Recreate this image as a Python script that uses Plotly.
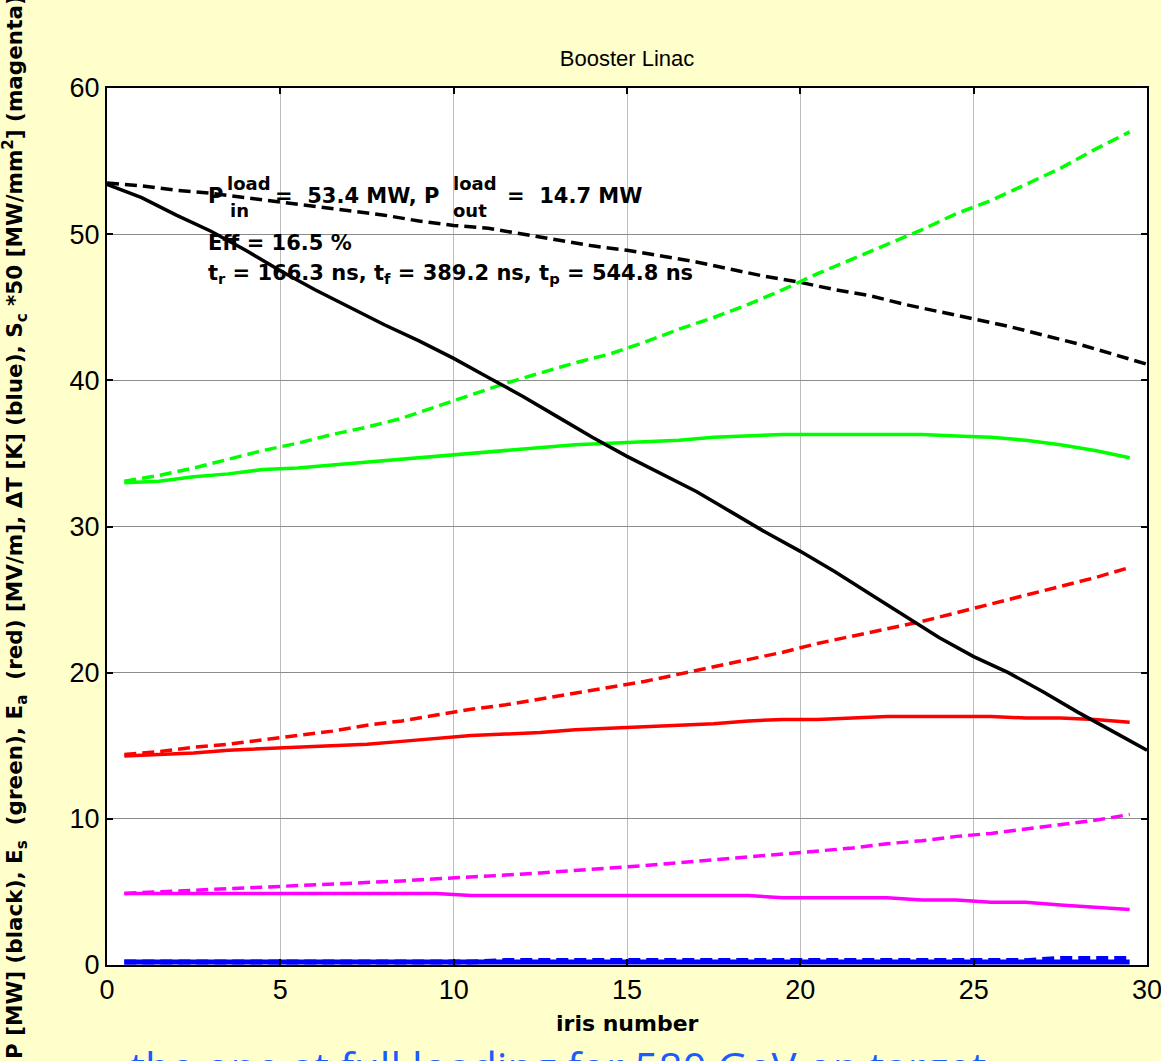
import plotly.graph_objects as go

# ---------------- data ----------------
x_edge = [0, 1, 2, 3, 4, 5, 6, 7, 8, 9, 10, 11, 12, 13, 14, 15, 16, 17, 18, 19, 20,
          21, 22, 23, 24, 25, 26, 27, 28, 29, 30]
x_iris = [0.5, 1.5, 2.5, 3.5, 4.5, 5.5, 6.5, 7.5, 8.5, 9.5, 10.5, 11.5, 12.5, 13.5, 14.5,
          15.5, 16.5, 17.5, 18.5, 19.5, 20.5, 21.5, 22.5, 23.5, 24.5, 25.5, 26.5, 27.5, 28.5, 29.5]

p_loaded = [53.4, 52.5, 51.3, 50.2, 48.9, 47.5, 46.2, 45.0, 43.8, 42.7, 41.5, 40.2, 38.9,
            37.5, 36.1, 34.8, 33.6, 32.4, 31.0, 29.6, 28.3, 26.9, 25.4, 23.9, 22.4, 21.1,
            20.0, 18.7, 17.3, 16.0, 14.7]
p_unloaded = [53.5, 53.3, 53.0, 52.8, 52.5, 52.2, 51.9, 51.6, 51.3, 50.9, 50.6, 50.4, 50.0,
              49.6, 49.2, 48.9, 48.5, 48.1, 47.6, 47.1, 46.7, 46.2, 45.8, 45.2, 44.7, 44.2,
              43.7, 43.1, 42.5, 41.8, 41.1]

es_loaded = [33.0, 33.1, 33.4, 33.6, 33.9, 34.0, 34.2, 34.4, 34.6, 34.8, 35.0, 35.2, 35.4,
             35.6, 35.7, 35.8, 35.9, 36.1, 36.2, 36.3, 36.3, 36.3, 36.3, 36.3, 36.2, 36.1,
             35.9, 35.6, 35.2, 34.7]
es_unloaded = [33.1, 33.5, 34.0, 34.6, 35.2, 35.7, 36.3, 36.8, 37.4, 38.2, 39.0, 39.8, 40.5,
               41.2, 41.8, 42.6, 43.5, 44.3, 45.2, 46.2, 47.3, 48.3, 49.3, 50.3, 51.4, 52.3,
               53.4, 54.5, 55.8, 57.0]

ea_loaded = [14.3, 14.4, 14.5, 14.7, 14.8, 14.9, 15.0, 15.1, 15.3, 15.5, 15.7, 15.8, 15.9,
             16.1, 16.2, 16.3, 16.4, 16.5, 16.7, 16.8, 16.8, 16.9, 17.0, 17.0, 17.0, 17.0,
             16.9, 16.9, 16.8, 16.6]
ea_unloaded = [14.4, 14.6, 14.9, 15.1, 15.4, 15.7, 16.0, 16.4, 16.7, 17.1, 17.5, 17.8, 18.2,
               18.6, 19.0, 19.4, 19.9, 20.4, 20.9, 21.4, 22.0, 22.5, 23.0, 23.5, 24.1, 24.7,
               25.3, 25.9, 26.5, 27.2]

sc_loaded = [4.9, 4.9, 4.9, 4.9, 4.9, 4.9, 4.9, 4.9, 4.9, 4.9, 4.75, 4.75, 4.75, 4.75, 4.75,
             4.75, 4.75, 4.75, 4.75, 4.6, 4.6, 4.6, 4.6, 4.45, 4.45, 4.3, 4.3, 4.1, 3.95, 3.8]
sc_unloaded = [4.9, 5.0, 5.1, 5.2, 5.3, 5.4, 5.5, 5.6, 5.75, 5.9, 6.0, 6.15, 6.3, 6.45, 6.6,
               6.8, 7.0, 7.2, 7.4, 7.6, 7.8, 8.0, 8.3, 8.5, 8.8, 9.0, 9.3, 9.6, 9.9, 10.3]

dt_loaded = [0.2, 0.2, 0.2, 0.2, 0.2, 0.2, 0.2, 0.2, 0.2, 0.2, 0.2, 0.2, 0.2, 0.2, 0.2,
             0.2, 0.2, 0.2, 0.2, 0.2, 0.2, 0.2, 0.2, 0.2, 0.2, 0.2, 0.2, 0.2, 0.2, 0.2]
dt_unloaded = [0.2, 0.2, 0.2, 0.2, 0.2, 0.2, 0.2, 0.2, 0.2, 0.2, 0.2, 0.3, 0.3, 0.3, 0.3,
               0.3, 0.3, 0.3, 0.3, 0.3, 0.3, 0.3, 0.3, 0.3, 0.3, 0.3, 0.3, 0.45, 0.45, 0.45]

x_ticks = [0, 5, 10, 15, 20, 25, 30]
y_ticks = [0, 10, 20, 30, 40, 50, 60]

# ---------------- figure ----------------
W, H = 1161, 1061
L, R, T, B = 107, 1147, 88, 965
DASH = "12px,6px"
FONT = "Liberation Sans, Arial, sans-serif"
BFONT = "DejaVu Sans, Arial, sans-serif"


def pp(xp, yp):
    """pixel -> paper coordinates"""
    return (xp - L) / (R - L), (B - yp) / (B - T)


fig = go.Figure()

series = [
    (x_edge, p_unloaded, "black", DASH, 3.5),
    (x_iris, es_unloaded, "#00ff00", DASH, 3.5),
    (x_iris, es_loaded, "#00ff00", "solid", 3.5),
    (x_iris, ea_unloaded, "#ff0000", DASH, 3.5),
    (x_iris, ea_loaded, "#ff0000", "solid", 3.5),
    (x_iris, sc_unloaded, "#ff00ff", DASH, 3.5),
    (x_iris, sc_loaded, "#ff00ff", "solid", 3.5),
    (x_iris, dt_loaded, "#0000ff", "solid", 5),
    (x_iris, dt_unloaded, "#0000ff", DASH, 5),
    (x_edge, p_loaded, "black", "solid", 3.5),
]
for xs, ys, col, dash, w in series:
    fig.add_trace(go.Scatter(x=xs, y=ys, mode="lines",
                             line=dict(color=col, dash=dash, width=w),
                             hoverinfo="skip", showlegend=False))

axis_common = dict(
    showline=True, linecolor="black", linewidth=2, mirror="ticks",
    ticks="inside", ticklen=6, tickwidth=2, tickcolor="black",
    zeroline=False, showgrid=True, gridwidth=1, automargin=False,
    ticklabeloverflow="allow",
    tickfont=dict(family=FONT, size=27, color="black"),
)
fig.update_xaxes(range=[0, 30], tickvals=x_ticks, gridcolor="#bdbdbd", **axis_common)
fig.update_yaxes(range=[0, 60], tickvals=y_ticks, gridcolor="#8c8c8c", **axis_common)

fig.update_layout(
    width=W, height=H,
    margin=dict(l=L, r=W - R, t=T, b=H - B, autoexpand=False),
    paper_bgcolor="#ffffcc", plot_bgcolor="white",
    showlegend=False,
    title=dict(text="Booster Linac", x=0.5, xref="paper", xanchor="center",
               y=(H - 58) / H, yref="container", yanchor="middle",
               font=dict(family=FONT, size=22, color="black")),
)

ann = []


def add(text, xp, yp, size, xanchor="left", yanchor="middle", bold=True,
        color="black", angle=0, family=BFONT):
    x, y = pp(xp, yp)
    ann.append(dict(text=("<b>%s</b>" % text) if bold else text, x=x, y=y,
                    xref="paper", yref="paper", xanchor=xanchor, yanchor=yanchor,
                    showarrow=False, textangle=angle,
                    font=dict(family=family, size=size, color=color)))


# in-plot annotation
add("P", 206, 196, 21)
add("load", 225, 183, 18)
add("in", 228, 210, 18)
add("=  53.4 MW, P", 273, 196, 21)
add("load", 451, 183, 18)
add("out", 451, 210, 18)
add("=  14.7 MW", 505, 196, 21)
add("Eff = 16.5 %", 206, 243, 21)
add("t<sub>r</sub> = 166.3 ns, t<sub>f</sub> = 389.2 ns, t<sub>p</sub> = 544.8 ns", 206, 274, 21)

# axis titles
add("iris number", (L + R) / 2, 1023, 22, xanchor="center")
add("P [MW] (black), E<sub>s</sub>  (green), E<sub>a</sub>  (red) [MV/m], \u0394T [K] (blue), "
    "S<sub>c</sub> *50 [MW/mm<sup>2</sup>] (magenta)",
    15, 527, 21.5, xanchor="center", angle=-90)

# slide text clipped at the page edges
add("the one at full loading for 580 GeV on target", 128, 1036, 42, yanchor="top",
    bold=False, color="#1a5cff", family="Open Sans, sans-serif")
add("y", 348, -9, 44, xanchor="center", yanchor="bottom", bold=False,
    color="#1a5cff", family="Open Sans, sans-serif")

fig.update_layout(annotations=ann)

fig.write_html("out.html")
